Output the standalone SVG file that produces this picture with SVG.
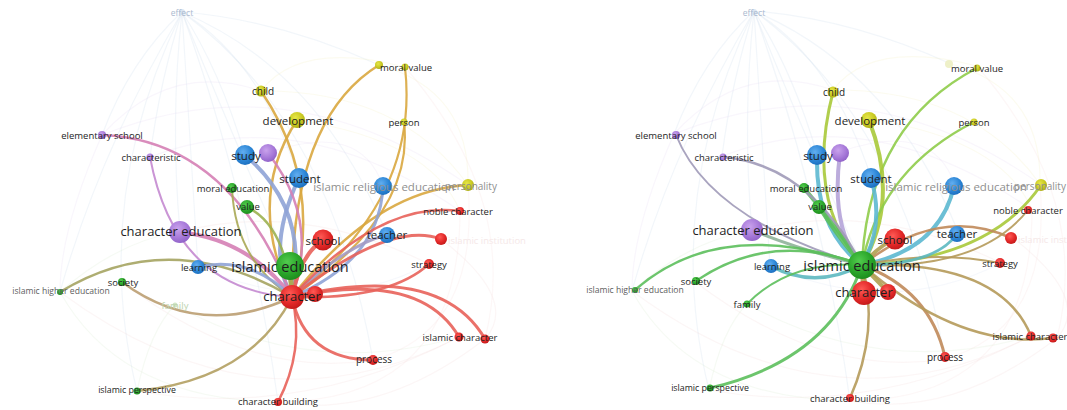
<svg xmlns="http://www.w3.org/2000/svg" xmlns:xlink="http://www.w3.org/1999/xlink" width="1067" height="410" viewBox="0 0 1067 410">
<style>
text{font-family:"Open Sans","Liberation Sans",sans-serif;text-anchor:middle;dominant-baseline:central;fill:#1e1e1e}
.s{font-size:9.5px}.m{font-size:11.5px}.l{font-size:13px}.xl{font-size:14.5px}
.gry{fill:#8f8f8f}.hge{fill:#5e5e5e;font-size:8.6px}.fnt{fill:#aab9cf;font-size:8.5px}.ffam{fill:#bcd3ae}.finst{fill:#f5e8e8}
.e{fill:none;stroke-linecap:round;opacity:.9}
.bg{fill:none;stroke-width:1.2;opacity:.22}
.B{fill:url(#gB)}.G{fill:url(#gG)}.R{fill:url(#gR)}.P{fill:url(#gP)}.Y{fill:url(#gY)}
</style>
<defs>
<radialGradient id="gB" cx=".4" cy=".35" r=".7"><stop offset="0" stop-color="#62aef0"/><stop offset=".6" stop-color="#2c86d6"/><stop offset="1" stop-color="#1a6cbc"/></radialGradient>
<radialGradient id="gG" cx=".4" cy=".35" r=".7"><stop offset="0" stop-color="#52cc4e"/><stop offset=".6" stop-color="#2aa52a"/><stop offset="1" stop-color="#1c8a1c"/></radialGradient>
<radialGradient id="gR" cx=".4" cy=".35" r=".7"><stop offset="0" stop-color="#ff5a55"/><stop offset=".6" stop-color="#e22828"/><stop offset="1" stop-color="#c01818"/></radialGradient>
<radialGradient id="gP" cx=".4" cy=".35" r=".7"><stop offset="0" stop-color="#c9a2ec"/><stop offset=".6" stop-color="#a77ad9"/><stop offset="1" stop-color="#8e5fc6"/></radialGradient>
<radialGradient id="gY" cx=".4" cy=".35" r=".7"><stop offset="0" stop-color="#e6e648"/><stop offset=".6" stop-color="#c9c922"/><stop offset="1" stop-color="#a9a916"/></radialGradient>
<g id="bgSet">
<path class="bg" stroke="#c6d6ea" d="M182 12 Q130 60 102 135"/>
<path class="bg" stroke="#c6d6ea" d="M182 12 Q160 80 150 157"/>
<path class="bg" stroke="#c6d6ea" d="M182 12 Q220 70 245 155"/>
<path class="bg" stroke="#c6d6ea" d="M182 12 Q260 60 299 178"/>
<path class="bg" stroke="#c6d6ea" d="M182 12 Q170 120 180 232"/>
<path class="bg" stroke="#c6d6ea" d="M182 12 Q230 130 290 266"/>
<path class="bg" stroke="#c6d6ea" d="M182 12 Q190 140 198 267"/>
<path class="bg" stroke="#c6d6ea" d="M182 12 Q100 150 60 292"/>
<path class="bg" stroke="#c6d6ea" d="M182 12 Q320 70 387 235"/>
<path class="bg" stroke="#c6d6ea" d="M182 12 Q330 120 373 360"/>
<path class="bg" stroke="#c6d6ea" d="M182 12 Q280 20 379 65"/>
<path class="bg" stroke="#c6d6ea" d="M182 12 Q90 200 137 391"/>
<path class="bg" stroke="#c6d6ea" d="M182 12 Q250 200 278 402"/>
<path class="bg" stroke="#e4d6f0" d="M102 135 Q290 60 468 185"/>
<path class="bg" stroke="#e4d6f0" d="M150 157 Q300 100 460 211"/>
<path class="bg" stroke="#e4d6f0" d="M102 135 Q170 60 261 91"/>
<path class="bg" stroke="#e4d6f0" d="M102 135 Q60 230 60 292"/>
<path class="bg" stroke="#f0d4d4" d="M60 292 Q260 440 459 337"/>
<path class="bg" stroke="#f0d4d4" d="M137 391 Q300 420 459 337"/>
<path class="bg" stroke="#f0d4d4" d="M278 402 Q380 420 485 339"/>
<path class="bg" stroke="#f0d4d4" d="M122 282 Q250 380 373 360"/>
<path class="bg" stroke="#f0ecbc" d="M379 65 Q470 90 468 185"/>
<path class="bg" stroke="#f4dada" d="M405 67 Q520 200 485 339"/>
<path class="bg" stroke="#f4dada" d="M468 185 Q480 330 373 360"/>
<path class="bg" stroke="#f4dada" d="M460 211 Q460 400 278 402"/>
<path class="bg" stroke="#f0ecbc" d="M261 91 Q400 90 468 185"/>
<path class="bg" stroke="#f0ecbc" d="M297 120 Q430 140 460 211"/>
<path class="bg" stroke="#d6e8cc" d="M60 292 Q120 400 278 402"/>
<path class="bg" stroke="#d6e8cc" d="M175 305 Q310 380 459 337"/>
<path class="bg" stroke="#f0d4d4" d="M180 232 Q300 200 429 264"/>
<path class="bg" stroke="#d4e0f0" d="M198 267 Q320 320 429 264"/>
<path class="bg" stroke="#d6e8cc" d="M60 292 Q120 240 180 232"/>
<path class="bg" stroke="#d6e8cc" d="M137 391 Q150 330 175 305"/>
<path class="bg" stroke="#f0d4d4" d="M441 239 Q520 300 485 339"/>
<path class="bg" stroke="#f0ecbc" d="M405 67 Q300 40 261 91"/>
<path class="bg" stroke="#e4d6f0" d="M268 153 Q360 120 383 186"/>
</g>
</defs>
<rect width="1067" height="410" fill="#ffffff"/>

<g id="connectors">
<use href="#bgSet" xlink:href="#bgSet"/>
<use href="#bgSet" xlink:href="#bgSet" transform="translate(572,-1)"/>
<!-- left panel: character links -->
<path class="e" stroke="#d9a73f" stroke-width="2.5" d="M292 297 Q325 185 261 91"/>
<path class="e" stroke="#d9a73f" stroke-width="2.5" d="M292 297 Q290 120 379 65"/>
<path class="e" stroke="#d9a73f" stroke-width="2.2" d="M292 297 Q420 200 405 67"/>
<path class="e" stroke="#d9a73f" stroke-width="2.5" d="M292 297 Q245 200 297 120"/>
<path class="e" stroke="#d9a73f" stroke-width="2.2" d="M292 297 Q415 215 404 122"/>
<path class="e" stroke="#d9a73f" stroke-width="2.5" d="M292 297 Q375 190 468 185"/>
<path class="e" stroke="#8fa3d6" stroke-width="3" d="M292 297 Q380 260 383 186"/>
<path class="e" stroke="#8fa3d6" stroke-width="4" d="M292 297 Q310 210 245 155"/>
<path class="e" stroke="#8fa3d6" stroke-width="4" d="M292 297 Q265 250 299 178"/>
<path class="e" stroke="#d57fb5" stroke-width="2.5" d="M292 297 Q320 220 268 153"/>
<path class="e" stroke="#d57fb5" stroke-width="2.5" d="M292 297 Q230 140 102 135"/>
<path class="e" stroke="#c48ad0" stroke-width="2" d="M292 297 Q175 290 150 157"/>
<path class="e" stroke="#d57fb5" stroke-width="4" d="M292 297 Q250 240 180 232"/>
<path class="e" stroke="#a8a855" stroke-width="2" d="M292 297 Q235 260 232 188"/>
<path class="e" stroke="#9cb150" stroke-width="2.5" d="M292 297 Q285 225 247 207"/>
<path class="e" stroke="#e8625a" stroke-width="4" d="M292 297 Q300 255 323 240"/>
<path class="e" stroke="#a39bc4" stroke-width="3" d="M292 297 Q345 245 387 235"/>
<path class="e" stroke="#e8625a" stroke-width="3" d="M292 297 Q390 220 441 239"/>
<path class="e" stroke="#e8625a" stroke-width="2.5" d="M292 297 Q380 200 460 211"/>
<path class="e" stroke="#e8625a" stroke-width="2.5" d="M292 297 Q390 300 429 264"/>
<path class="e" stroke="#e8625a" stroke-width="3" d="M292 297 Q420 270 459 337"/>
<path class="e" stroke="#e8625a" stroke-width="3" d="M292 297 Q440 262 485 339"/>
<path class="e" stroke="#e8625a" stroke-width="3" d="M292 297 Q305 360 373 360"/>
<path class="e" stroke="#e8625a" stroke-width="2.5" d="M292 297 Q305 350 278 402"/>
<path class="e" stroke="#b3a062" stroke-width="2.5" d="M292 297 Q250 380 137 391"/>
<path class="e" stroke="#a5a462" stroke-width="2.5" d="M292 297 Q170 225 60 292"/>
<path class="e" stroke="#bb9f72" stroke-width="2.5" d="M292 297 Q200 340 122 282"/>
<path class="e" stroke="#8fa3d6" stroke-width="3" d="M292 297 Q250 255 198 267"/>
<path class="e" stroke="#a8a855" stroke-width="5" d="M292 297 L290 266"/>
<path class="e" stroke="#e8625a" stroke-width="4" d="M292 297 L315 294"/>
<!-- right panel: islamic education links -->
<path class="e" stroke="#a9c93a" stroke-width="3" d="M862 265 Q805 200 833 92"/>
<path class="e" stroke="#8fcc4a" stroke-width="2.5" d="M862 265 Q868 125 977 68"/>
<path class="e" stroke="#a9c93a" stroke-width="4" d="M862 265 Q900 200 869 120"/>
<path class="e" stroke="#8fcc4a" stroke-width="2.5" d="M862 265 Q880 170 974 122"/>
<path class="e" stroke="#a9c93a" stroke-width="3" d="M862 265 Q990 260 1041 185"/>
<path class="e" stroke="#5cb8d0" stroke-width="4" d="M862 265 Q940 250 954 186"/>
<path class="e" stroke="#5cb8d0" stroke-width="4" d="M862 265 Q885 225 871 178"/>
<path class="e" stroke="#5cb8d0" stroke-width="4" d="M862 265 Q815 230 817 155"/>
<path class="e" stroke="#b5a3d8" stroke-width="4" d="M862 265 Q830 230 840 153"/>
<path class="e" stroke="#5cbf5c" stroke-width="4" d="M862 265 Q835 225 804 188"/>
<path class="e" stroke="#5cbf5c" stroke-width="4" d="M862 265 Q840 240 819 207"/>
<path class="e" stroke="#a09ab8" stroke-width="2.5" d="M862 265 Q810 165 723 157"/>
<path class="e" stroke="#a09ab8" stroke-width="2" d="M862 265 Q710 220 676 135"/>
<path class="e" stroke="#8fb39a" stroke-width="3" d="M862 265 Q800 250 752 230"/>
<path class="e" stroke="#5cb8c0" stroke-width="3.5" d="M862 265 Q815 290 771 266"/>
<path class="e" stroke="#5cbf5c" stroke-width="2.5" d="M862 265 Q770 230 696 281"/>
<path class="e" stroke="#5cbf5c" stroke-width="2.5" d="M862 265 Q720 215 635 290"/>
<path class="e" stroke="#5cbf5c" stroke-width="2" d="M862 265 Q790 260 747 304"/>
<path class="e" stroke="#5cbf5c" stroke-width="3" d="M862 265 Q830 360 710 388"/>
<path class="e" stroke="#b59a5a" stroke-width="2.5" d="M862 265 Q880 330 850 398"/>
<path class="e" stroke="#c08a5a" stroke-width="3" d="M862 265 Q930 290 945 357"/>
<path class="e" stroke="#b59a5a" stroke-width="2.5" d="M862 265 Q1000 260 1031 336"/>
<path class="e" stroke="#b59a5a" stroke-width="2.5" d="M862 265 Q960 350 1053 338"/>
<path class="e" stroke="#b59a5a" stroke-width="2" d="M862 265 Q935 250 1000 263"/>
<path class="e" stroke="#c08a5a" stroke-width="2.5" d="M862 265 Q940 205 1011 238"/>
<path class="e" stroke="#b59a5a" stroke-width="2" d="M862 265 Q980 270 1028 210"/>
<path class="e" stroke="#5cb8c0" stroke-width="3" d="M862 265 Q935 265 957 234"/>
<path class="e" stroke="#b0a050" stroke-width="4" d="M862 265 Q880 245 895 239"/>
<path class="e" stroke="#b0a050" stroke-width="5" d="M862 265 L864 293"/>
<path class="e" stroke="#b0a050" stroke-width="4" d="M862 265 L888 292"/>
</g>

<!-- LEFT PANEL NODES -->
<g id="L-effect"><circle cx="182" cy="12" r="3" fill="#dbe6f2"/><text class="fnt" x="182" y="12">effect</text></g>
<g id="L-moral-value-2"><circle class="Y" cx="379" cy="65" r="4"/></g>
<g id="L-moral-value"><circle class="Y" cx="405" cy="67" r="3.5"/><text class="s" x="406" y="67">moral value</text></g>
<g id="L-child"><circle class="Y" cx="261" cy="91" r="5.5"/><text class="s" x="263" y="91" style="font-size:10px">child</text></g>
<g id="L-development"><circle class="Y" cx="297" cy="120" r="8"/><text class="m" x="298" y="120">development</text></g>
<g id="L-person"><circle class="Y" cx="404" cy="122" r="3.5"/><text class="s" x="404" y="122">person</text></g>
<g id="L-elementary-school"><circle class="P" cx="102" cy="135" r="4"/><text class="s" x="102" y="135">elementary school</text></g>
<g id="L-characteristic"><circle class="P" cx="150" cy="157" r="3.5"/><text class="s" x="151" y="157">characteristic</text></g>
<g id="L-purple"><circle class="P" cx="268" cy="153" r="9"/></g>
<g id="L-study"><circle class="B" cx="245" cy="155" r="10"/><text class="m" x="246" y="155">study</text></g>
<g id="L-student"><circle class="B" cx="299" cy="178" r="10"/><text class="m" x="300" y="178">student</text></g>
<g id="L-islamic-religious-education"><circle class="B" cx="383" cy="186" r="9"/><text class="m gry" x="384" y="186">islamic religious education</text></g>
<g id="L-personality"><circle class="Y" cx="468" cy="185" r="6"/><text class="gry" x="471" y="186" style="font-size:10px">personality</text></g>
<g id="L-moral-education"><circle class="G" cx="232" cy="188" r="5"/><text class="s" x="233" y="188">moral education</text></g>
<g id="L-value"><circle class="G" cx="247" cy="207" r="7"/><text class="s" x="248" y="206">value</text></g>
<g id="L-noble-character"><circle class="R" cx="460" cy="211" r="4"/><text class="s" x="458" y="211">noble character</text></g>
<g id="L-character-education"><circle class="P" cx="180" cy="232" r="11"/><text class="l" x="181" y="231">character education</text></g>
<g id="L-school"><circle class="R" cx="323" cy="240" r="10.5"/><text class="m" x="323" y="240">school</text></g>
<g id="L-teacher"><circle class="B" cx="387" cy="235" r="8"/><text class="m" x="387" y="234">teacher</text></g>
<g id="L-islamic-institution"><circle class="R" cx="441" cy="239" r="6"/><text class="s finst" x="487" y="240">islamic institution</text></g>
<g id="L-learning"><circle class="B" cx="198" cy="267" r="7"/><text class="s" x="199" y="267">learning</text></g>
<g id="L-islamic-education"><circle class="G" cx="290" cy="266" r="14"/><text class="xl" x="290" y="266">islamic education</text></g>
<g id="L-strategy"><circle class="R" cx="429" cy="264" r="5"/><text class="s" x="429" y="264">strategy</text></g>
<g id="L-society"><circle class="G" cx="122" cy="282" r="4"/><text class="s" x="123" y="282">society</text></g>
<g id="L-islamic-higher-education"><circle class="G" cx="60" cy="292" r="3"/><text class="hge" x="61" y="291">islamic higher education</text></g>
<g id="L-family"><circle cx="175" cy="305" r="2.5" fill="#d2e6c6"/><text class="s ffam" x="175" y="305">family</text></g>
<g id="L-red-2"><circle class="R" cx="315" cy="294" r="8"/></g>
<g id="L-character"><circle class="R" cx="292" cy="297" r="12"/><text class="l" x="292" y="296">character</text></g>
<g id="L-islamic-character"><circle class="R" cx="459" cy="337" r="4.5"/><circle class="R" cx="485" cy="339" r="4.5"/><text class="s" x="460" y="337">islamic character</text></g>
<g id="L-process"><circle class="R" cx="373" cy="360" r="5"/><text class="s" x="374" y="359" style="font-size:10px">process</text></g>
<g id="L-islamic-perspective"><circle class="G" cx="137" cy="391" r="3.5"/><text class="s" x="137" y="390" style="font-size:8.8px">islamic perspective</text></g>
<g id="L-character-building"><circle class="R" cx="278" cy="402" r="4"/><text class="s" x="278" y="401">character building</text></g>

<!-- RIGHT PANEL NODES -->
<g id="R-effect"><circle cx="754" cy="12" r="3" fill="#dbe6f2"/><text class="fnt" x="754" y="12">effect</text></g>
<g id="R-moral-value-2"><circle cx="949" cy="64" r="4" fill="#eef0c8"/></g>
<g id="R-moral-value"><circle class="Y" cx="977" cy="68" r="3.5"/><text class="s" x="977" y="68">moral value</text></g>
<g id="R-child"><circle class="Y" cx="833" cy="92" r="5.5"/><text class="s" x="834" y="92" style="font-size:10px">child</text></g>
<g id="R-development"><circle class="Y" cx="869" cy="120" r="8"/><text class="m" x="870" y="120">development</text></g>
<g id="R-person"><circle class="Y" cx="974" cy="122" r="3.5"/><text class="s" x="974" y="122">person</text></g>
<g id="R-elementary-school"><circle class="P" cx="676" cy="135" r="4"/><text class="s" x="676" y="135">elementary school</text></g>
<g id="R-characteristic"><circle class="P" cx="723" cy="157" r="3.5"/><text class="s" x="724" y="157">characteristic</text></g>
<g id="R-purple"><circle class="P" cx="840" cy="153" r="9"/></g>
<g id="R-study"><circle class="B" cx="817" cy="155" r="10"/><text class="m" x="818" y="155">study</text></g>
<g id="R-student"><circle class="B" cx="871" cy="178" r="10"/><text class="m" x="871" y="178">student</text></g>
<g id="R-islamic-religious-education"><circle class="B" cx="954" cy="186" r="9"/><text class="m gry" x="956" y="186">islamic religious education</text></g>
<g id="R-personality"><circle class="Y" cx="1041" cy="185" r="6"/><text class="gry" x="1040" y="186" style="font-size:10px">personality</text></g>
<g id="R-moral-education"><circle class="G" cx="804" cy="188" r="5"/><text class="s" x="806" y="188">moral education</text></g>
<g id="R-value"><circle class="G" cx="819" cy="207" r="7"/><text class="s" x="820" y="206">value</text></g>
<g id="R-noble-character"><circle class="R" cx="1028" cy="210" r="4"/><text class="s" x="1028" y="210">noble character</text></g>
<g id="R-character-education"><circle class="P" cx="752" cy="230" r="11"/><text class="l" x="753" y="230">character education</text></g>
<g id="R-school"><circle class="R" cx="895" cy="239" r="10.5"/><text class="m" x="895" y="239">school</text></g>
<g id="R-teacher"><circle class="B" cx="957" cy="234" r="8"/><text class="m" x="957" y="233">teacher</text></g>
<g id="R-islamic-institution"><circle class="R" cx="1011" cy="238" r="6"/><text class="s finst" x="1057" y="239">islamic institution</text></g>
<g id="R-learning"><circle class="B" cx="771" cy="266" r="7"/><text class="s" x="772" y="266">learning</text></g>
<g id="R-islamic-education"><circle class="G" cx="862" cy="265" r="14"/><text class="xl" x="862" y="265">islamic education</text></g>
<g id="R-strategy"><circle class="R" cx="1000" cy="263" r="5"/><text class="s" x="1000" y="263">strategy</text></g>
<g id="R-society"><circle class="G" cx="696" cy="281" r="4"/><text class="s" x="696" y="281">society</text></g>
<g id="R-islamic-higher-education"><circle class="G" cx="635" cy="290" r="3"/><text class="hge" x="635" y="290">islamic higher education</text></g>
<g id="R-family"><circle class="G" cx="747" cy="304" r="3.5"/><text class="s" x="747" y="304">family</text></g>
<g id="R-red-2"><circle class="R" cx="888" cy="292" r="8"/></g>
<g id="R-character"><circle class="R" cx="864" cy="293" r="12"/><text class="l" x="864" y="292">character</text></g>
<g id="R-islamic-character"><circle class="R" cx="1031" cy="336" r="4.5"/><circle class="R" cx="1053" cy="338" r="4.5"/><text class="s" x="1030" y="336">islamic character</text></g>
<g id="R-process"><circle class="R" cx="945" cy="357" r="5"/><text class="s" x="945" y="357" style="font-size:10px">process</text></g>
<g id="R-islamic-perspective"><circle class="G" cx="710" cy="388" r="3.5"/><text class="s" x="710" y="388" style="font-size:8.8px">islamic perspective</text></g>
<g id="R-character-building"><circle class="R" cx="850" cy="398" r="4"/><text class="s" x="850" y="398">character building</text></g>
</svg>
